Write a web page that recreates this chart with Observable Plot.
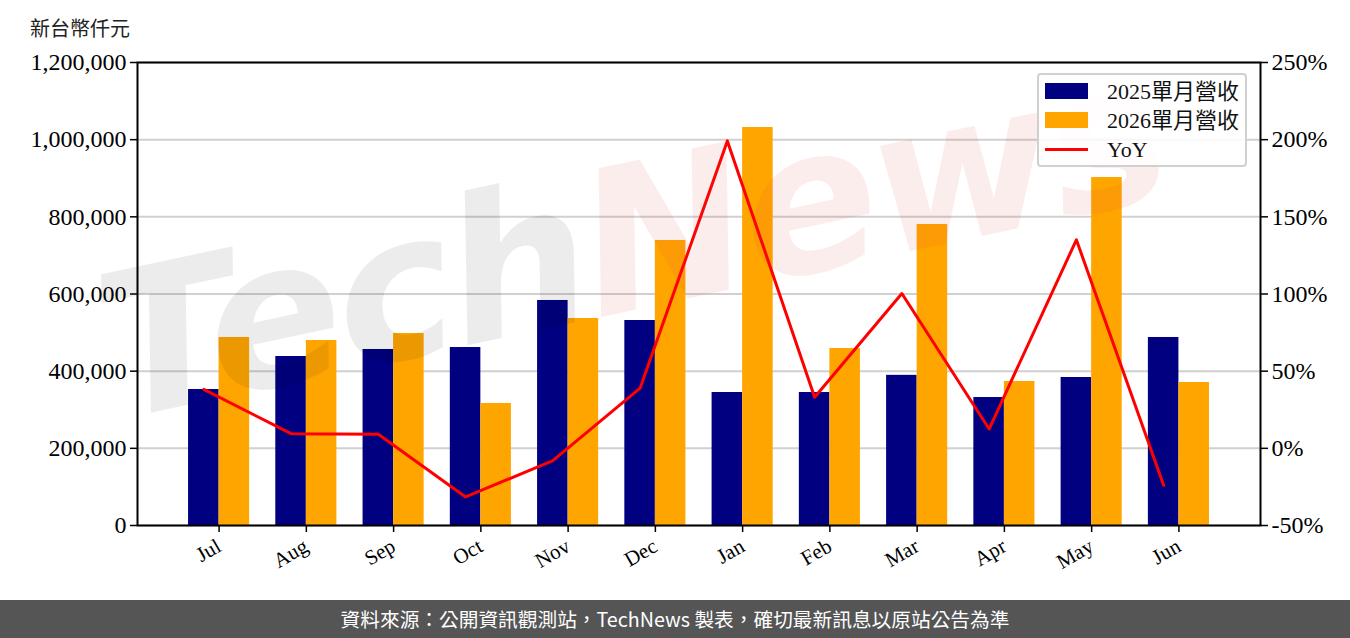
<!DOCTYPE html>
<html>
<head>
<meta charset="utf-8">
<script src="https://cdn.jsdelivr.net/npm/d3@7"></script>
<script src="https://cdn.jsdelivr.net/npm/@observablehq/plot@0.6"></script>
<style>
  html, body { margin:0; padding:0; background:#fff; }
  #wrap { position:relative; width:1350px; height:638px; overflow:hidden; background:#fff; }
  #chart { position:absolute; left:0; top:0; }
  #ytitle { position:absolute; left:30px; top:13px; font:20px 'Noto Sans CJK TC', sans-serif; color:#222; }
  #footer { position:absolute; left:0; top:600px; width:1350px; height:38px; background:#555; color:#fff;
            font:19.7px 'Noto Sans CJK TC', sans-serif; line-height:38px; text-align:center; }
  #legend { position:absolute; left:1037px; top:73px; width:206px; height:90px; border:2px solid #d0d0d0; border-radius:4px;
            background:rgba(255,255,255,0.85); font:22px 'Liberation Serif','Noto Sans CJK TC',serif; color:#111; }
  .row { position:absolute; left:0; height:30px; width:100%; }
  .sw { position:absolute; left:6px; width:43px; height:16px; }
  .ln { position:absolute; left:6px; width:43px; height:3px; background:red; }
  .lt { position:absolute; left:68px; top:0; line-height:30px; white-space:nowrap; }
  #wm { position:absolute; left:125px; top:240px; font:italic bold 200px 'DejaVu Sans', sans-serif; white-space:nowrap;
        transform:rotate(-12deg); transform-origin:left bottom; pointer-events:none; letter-spacing:-4px; line-height:1.1; }
</style>
</head>
<body>
<div id="wrap">
  <div id="chart"></div>
  <div id="wm"><span style="color:rgba(0,0,0,0.075)">Tech</span><span style="color:rgba(220,60,60,0.09)">News</span></div>
  <div id="ytitle">新台幣仟元</div>
  <div id="legend">
    <div class="row" style="top:2px"><div class="sw" style="top:6px;background:#000080"></div><div class="lt">2025單月營收</div></div>
    <div class="row" style="top:31px"><div class="sw" style="top:6px;background:#FFA500"></div><div class="lt">2026單月營收</div></div>
    <div class="row" style="top:60px"><div class="ln" style="top:13px"></div><div class="lt">YoY</div></div>
  </div>
  <div id="footer">資料來源：公開資訊觀測站，TechNews 製表，確切最新訊息以原站公告為準</div>
</div>
<script>
const months = ["Jul","Aug","Sep","Oct","Nov","Dec","Jan","Feb","Mar","Apr","May","Jun"];
const rev2025 = [352500, 438000, 456200, 461300, 583200, 531300, 344700, 344700, 389200, 331700, 383600, 487300];
const rev2026 = [487300, 479500, 497600, 316200, 536500, 738700, 1031500, 458700, 780100, 373200, 901900, 370600];
const yoy = [38.2, 9.5, 9.1, -31.5, -8.0, 39.0, 199.2, 33.1, 100.3, 12.5, 135.1, -23.9];
const leftTicks = [0, 200000, 400000, 600000, 800000, 1000000, 1200000];
const rightTicks = [-50, 0, 50, 100, 150, 200, 250];

const leftDomain = [0, 1200000];
const rightDomain = [-50, 250];
const toLeft = d3.scaleLinear().domain(rightDomain).range(leftDomain);
const barW = 0.35;

const rows = months.map((m, i) => ({i, m, a: rev2025[i], b: rev2026[i], yoy: yoy[i]}));

const chart = Plot.plot({
  width: 1350,
  height: 600,
  marginTop: 62,
  marginBottom: 75,
  marginLeft: 137,
  marginRight: 90,
  x: {type: "linear", domain: [-0.5 - 0.435, 11.5 + 0.435], label: null},
  y: {domain: leftDomain, label: null},
  style: {fontFamily: "'Liberation Serif','Noto Sans CJK TC',serif", fontSize: "20px", color: "#000", background: "transparent"},
  marks: [
    Plot.gridY(leftTicks, {stroke: "#d0d0d0", strokeOpacity: 1, strokeWidth: 2}),
    Plot.rectY(rows, {x1: d => d.i - barW, x2: d => d.i, y: "a", fill: "#000080"}),
    Plot.rectY(rows, {x1: d => d.i, x2: d => d.i + barW, y: "b", fill: "#FFA500"}),
    Plot.line(rows, {x: d => d.i - barW / 2, y: d => toLeft(d.yoy), stroke: "red", strokeWidth: 3}),
    Plot.frame({stroke: "#000", strokeWidth: 2}),
    Plot.axisY(leftTicks, {label: null, tickFormat: d3.format(","), tickSize: 7, tickPadding: 4, fontSize: 24, stroke: "#000", strokeWidth: 1.5}),
    Plot.axisY(rightTicks.map(t => toLeft(t)), {anchor: "right", label: null, tickFormat: d => Math.round(toLeft.invert(d)) + "%", tickSize: 7, tickPadding: 4, fontSize: 24, strokeWidth: 1.5}),
    Plot.axisX(d3.range(months.length), {label: null, tickFormat: i => months[i], tickRotate: -30, tickSize: 7, tickPadding: 12, fontSize: 21, strokeWidth: 1.5})
  ]
});
document.getElementById("chart").appendChild(chart);
</script>
</body>
</html>
